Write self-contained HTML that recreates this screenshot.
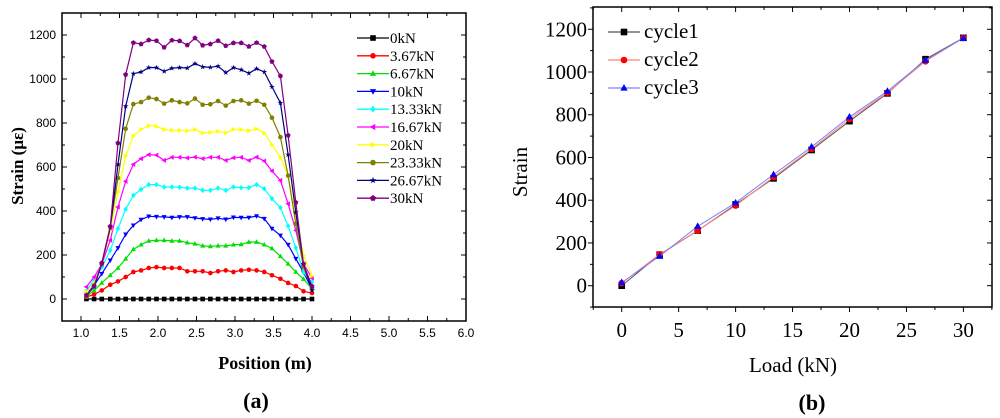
<!DOCTYPE html>
<html><head><meta charset="utf-8"><style>
html,body{margin:0;padding:0;background:#fff;width:1000px;height:418px;overflow:hidden}
svg{display:block}
</style></head><body>
<svg id="s" width="1000" height="418" xmlns="http://www.w3.org/2000/svg"></svg>
<script>
// ---- chart (a) data ----
const posA = [1.07,1.17,1.27,1.38,1.48,1.58,1.68,1.78,1.88,1.98,2.08,2.18,2.28,2.38,2.48,2.58,2.68,2.78,2.88,2.98,3.08,3.18,3.28,3.38,3.48,3.59,3.69,3.79,3.89,4.00];
const loadLabels = ["0kN","3.67kN","6.67kN","10kN","13.33kN","16.67kN","20kN","23.33kN","26.67kN","30kN"];
const s0 = [0,0,0,0,0,0,0,0,0,0,0,0,0,0,0,0,0,0,0,0,0,0,0,0,0,0,0,0,0,0];
const s367 = [9,21,39,65,80,100,123,130,141,145,141,141,141,126,126,126,118,126,130,123,130,133,130,123,108,92,73,59,35,27];
const s667 = [12,39,73,108,141,183,226,247,264,267,267,264,264,256,251,242,239,242,242,247,248,259,259,247,230,194,160,123,91,47];
const s10 = [21,62,115,176,232,294,335,361,376,374,373,370,373,373,368,364,362,367,362,371,370,370,377,365,320,289,247,183,121,45];
const s1333 = [36,88,145,221,320,408,471,498,520,520,509,509,508,504,504,494,494,504,494,509,506,506,520,501,456,415,332,233,121,77];
const s1667 = [55,100,158,267,418,535,612,638,656,654,630,644,644,641,645,638,644,644,630,642,644,630,645,627,582,539,433,312,160,95];
const s20 = [32,70,160,312,486,650,741,771,788,785,770,767,767,764,771,754,757,762,755,771,770,765,773,754,701,645,561,373,198,105];
const s2333 = [12,61,160,330,550,774,886,895,915,909,888,903,895,889,911,883,885,900,879,900,903,888,901,883,824,736,561,342,145,47];
const s2667 = [17,55,160,324,612,876,1024,1032,1052,1052,1035,1049,1052,1050,1070,1055,1053,1058,1029,1052,1042,1026,1047,1032,964,891,656,394,160,39];
const s30 = [17,58,164,330,709,1020,1165,1159,1177,1174,1144,1176,1173,1154,1186,1153,1159,1174,1151,1164,1164,1148,1165,1147,1079,1014,744,439,158,58];
const xTicksA = ["1.0","1.5","2.0","2.5","3.0","3.5","4.0","4.5","5.0","5.5","6.0"];
const yTicksA = ["0","200","400","600","800","1000","1200"];
// ---- chart (b) data ----
const loadsB = [0,3.33,6.67,10,13.33,16.67,20,23.33,26.67,30];
const cycle1 = [0,145,258,380,502,635,770,900,1060,1160];
const cycle2 = [12,147,258,375,508,640,780,903,1050,1160];
const cycle3 = [15,138,278,388,520,650,790,910,1055,1158];
const cycleLabels = ["cycle1","cycle2","cycle3"];
const xTicksB = ["0","5","10","15","20","25","30"];
const yTicksB = ["0","200","400","600","800","1000","1200"];

const NS="http://www.w3.org/2000/svg";
const svg=document.getElementById('s');
function el(tag,attrs,parent){const e=document.createElementNS(NS,tag);for(const k in attrs)e.setAttribute(k,attrs[k]);(parent||svg).appendChild(e);return e;}
function txt(s,attrs,parent){const t=el('text',attrs,parent);t.textContent=s;return t;}

function marker(g,shape,x,y,r,color){
  let m;
  if(shape==='sq') m=el('rect',{x:x-r,y:y-r,width:2*r,height:2*r,fill:color},g);
  else if(shape==='ci') m=el('circle',{cx:x,cy:y,r:r,fill:color},g);
  else if(shape==='up') m=el('polygon',{points:`${x},${y-r*1.2} ${x-r*1.1},${y+r*0.8} ${x+r*1.1},${y+r*0.8}`,fill:color},g);
  else if(shape==='dn') m=el('polygon',{points:`${x},${y+r*1.2} ${x-r*1.1},${y-r*0.8} ${x+r*1.1},${y-r*0.8}`,fill:color},g);
  else if(shape==='di') m=el('polygon',{points:`${x},${y-r*1.2} ${x+r},${y} ${x},${y+r*1.2} ${x-r},${y}`,fill:color},g);
  else if(shape==='lt') m=el('polygon',{points:`${x-r*1.2},${y} ${x+r*0.8},${y-r*1.1} ${x+r*0.8},${y+r*1.1}`,fill:color},g);
  else if(shape==='rt') m=el('polygon',{points:`${x+r*1.2},${y} ${x-r*0.8},${y-r*1.1} ${x-r*0.8},${y+r*1.1}`,fill:color},g);
  else if(shape==='st'){let p=[];for(let i=0;i<10;i++){const a=-Math.PI/2+i*Math.PI/5;const rr=i%2?r*0.5:r*1.3;p.push((x+rr*Math.cos(a)).toFixed(1)+','+(y+rr*Math.sin(a)).toFixed(1));}m=el('polygon',{points:p.join(' '),fill:color},g);}
  else if(shape==='pe'){let p=[];for(let i=0;i<5;i++){const a=-Math.PI/2+i*2*Math.PI/5;p.push((x+r*1.15*Math.cos(a)).toFixed(1)+','+(y+r*1.15*Math.sin(a)).toFixed(1));}m=el('polygon',{points:p.join(' '),fill:color},g);}
  
  
}

// ===== Chart A =====
const A={l:62,r:466,t:13,b:321};
const xA=v=>81+(v-1)*77;
const yA=v=>299-v*0.22;
const gA=el('g',{});


const frA=el('rect',{x:A.l,y:A.t,width:A.r-A.l,height:A.b-A.t,fill:'none',stroke:'#000','stroke-width':1.5},gA);

for(let i=0;i<=20;i++){const v=1+i*0.25;const x=xA(v);const L=i%2?3:5;
  el('line',{x1:x,y1:A.b,x2:x,y2:A.b-L,stroke:'#000'},gA);el('line',{x1:x,y1:A.t,x2:x,y2:A.t+L,stroke:'#000'},gA);}
xTicksA.forEach((s,i)=>{const t=txt(s,{x:xA(parseFloat(s)),y:337,'text-anchor':'middle','font-family':'Liberation Sans, sans-serif','font-size':12},gA);
  });
for(let v=-100;v<=1300;v+=100){const y=yA(v);const L=v%200?3:5;
  el('line',{x1:A.l,y1:y,x2:A.l+L,y2:y,stroke:'#000'},gA);el('line',{x1:A.r,y1:y,x2:A.r-L,y2:y,stroke:'#000'},gA);}
yTicksA.forEach(s=>{const t=txt(s,{x:56,y:yA(+s)+4,'text-anchor':'end','font-family':'Liberation Sans, sans-serif','font-size':12},gA);
  });
let t1=txt('Position (m)',{x:265,y:369,'text-anchor':'middle','font-family':'Liberation Serif, serif','font-size':18,'font-weight':'bold'},gA);

let t2=txt('Strain (με)',{x:0,y:0,transform:'translate(23,166) rotate(-90)','text-anchor':'middle','font-family':'Liberation Serif, serif','font-size':17,'font-weight':'bold'},gA);

let t3=txt('(a)',{x:256,y:408,'text-anchor':'middle','font-family':'Liberation Serif, serif','font-size':22,'font-weight':'bold'},gA);


const seriesA=[s0,s367,s667,s10,s1333,s1667,s20,s2333,s2667,s30];
const colorsA=['#000','#ff0000','#00e000','#0000ff','#00ffff','#ff00ff','#ffff00','#808000','#000080','#800080'];
const shapesA=['sq','ci','up','dn','di','lt','rt','ci','st','pe'];
seriesA.forEach((arr,k)=>{
  const g=el('g',{},gA);
  
  
  el('polyline',{points:arr.map((v,i)=>xA(posA[i]).toFixed(1)+','+yA(v).toFixed(1)).join(' '),fill:'none',stroke:colorsA[k],'stroke-width':1.2},g);
  arr.forEach((v,i)=>marker(g,shapesA[k],xA(posA[i]),yA(v),2.3,colorsA[k]));
  const ly=38+k*17.8;
  const lg=el('g',{},gA);
  
  
  el('line',{x1:357,y1:ly,x2:389,y2:ly,stroke:colorsA[k],'stroke-width':1.3},lg);
  marker(lg,shapesA[k],373,ly,2.8,colorsA[k]);
  txt(loadLabels[k],{x:390,y:ly+5,'font-family':'Liberation Serif, serif','font-size':15},lg);
});

// ===== Chart B =====
const B={l:593,r:992,t:7,b:307};
const xB=v=>621.7+v*11.39;
const yB=v=>285.7-v*0.2137;
const gB=el('g',{});


const frB=el('rect',{x:B.l,y:B.t,width:B.r-B.l,height:B.b-B.t,fill:'none',stroke:'#000','stroke-width':1.5},gB);

for(let v=-2.5;v<=32.5;v+=2.5){const x=xB(v);const L=(v%5)?3:5;
  el('line',{x1:x,y1:B.b,x2:x,y2:B.b+L,stroke:'#000'},gB);el('line',{x1:x,y1:B.t,x2:x,y2:B.t+L,stroke:'#000'},gB);}
xTicksB.forEach(s=>{const t=txt(s,{x:xB(+s),y:337,'text-anchor':'middle','font-family':'Liberation Serif, serif','font-size':21},gB);
  });
for(let v=-100;v<=1300;v+=100){const y=yB(v);const L=v%200?3:5;
  el('line',{x1:B.l,y1:y,x2:B.l-L,y2:y,stroke:'#000'},gB);el('line',{x1:B.r,y1:y,x2:B.r-L,y2:y,stroke:'#000'},gB);}
yTicksB.forEach(s=>{const t=txt(s,{x:587,y:yB(+s)+7,'text-anchor':'end','font-family':'Liberation Serif, serif','font-size':21},gB);
  });
let b1=txt('Load (kN)',{x:793,y:372,'text-anchor':'middle','font-family':'Liberation Serif, serif','font-size':21},gB);

let b2=txt('Strain',{x:0,y:0,transform:'translate(527,172) rotate(-90)','text-anchor':'middle','font-family':'Liberation Serif, serif','font-size':21},gB);

let b3=txt('(b)',{x:812,y:410,'text-anchor':'middle','font-family':'Liberation Serif, serif','font-size':22,'font-weight':'bold'},gB);


const seriesB=[cycle1,cycle2,cycle3];
const colorsB=['#000','#ff0000','#0000ff'];
const lineB=['#555','#ff8080','#8080ff'];
const shapesB=['sq','ci','up'];
seriesB.forEach((arr,k)=>{
  const g=el('g',{},gB);
  
  
  el('polyline',{points:arr.map((v,i)=>xB(loadsB[i]).toFixed(1)+','+yB(v).toFixed(1)).join(' '),fill:'none',stroke:lineB[k],'stroke-width':1},g);
  arr.forEach((v,i)=>marker(g,shapesB[k],xB(loadsB[i]),yB(v),3.3,colorsB[k]));
  const ly=32+k*28;
  const lg=el('g',{},gB);
  
  
  el('line',{x1:608,y1:ly,x2:640,y2:ly,stroke:lineB[k],'stroke-width':1.2},lg);
  marker(lg,shapesB[k],624,ly,3.3,colorsB[k]);
  txt(cycleLabels[k],{x:644,y:ly+6,'font-family':'Liberation Serif, serif','font-size':21},lg);
});
</script>
</body></html>
